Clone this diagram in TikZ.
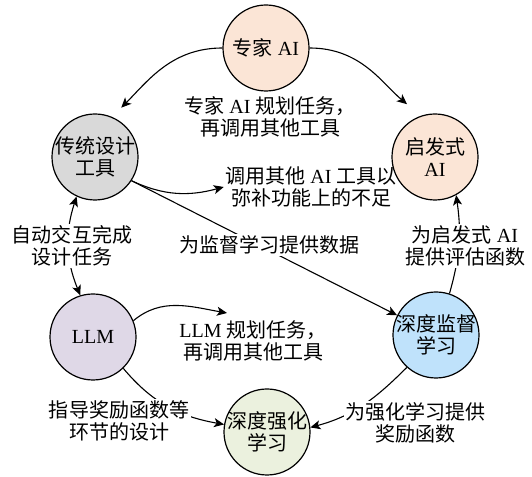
\documentclass[tikz,border=0pt]{standalone}
\usepackage{fontspec}
\setmainfont{Liberation Serif}
\newfontfamily\cjk{Noto Sans CJK SC}
\usetikzlibrary{arrows.meta}
\newcommand\zh[1]{{\cjk #1}}
\definecolor{peach}{HTML}{FBE5D6}
\definecolor{greyfill}{HTML}{D9D9D9}
\definecolor{lavender}{HTML}{DFD8E7}
\definecolor{skyfill}{HTML}{BFE2FB}
\definecolor{greenfill}{HTML}{EBF1DE}
\begin{document}
\begin{tikzpicture}[x=1bp,y=1bp,
  every node/.style={font=\fontsize{20bp}{22bp}\selectfont},
  circ/.style={circle,draw,line width=1.2bp,minimum size=86bp,inner sep=-12bp,align=center},
  lbl/.style={align=center,inner sep=1.5bp},
  lblw/.style={lbl,fill=white},
  arr/.style={line width=1.1bp,-{Stealth[length=10bp,width=9bp,inset=2.5bp]}},
  arrtwo/.style={line width=1.1bp,{Stealth[length=10bp,width=9bp,inset=2.5bp]}-{Stealth[length=10bp,width=9bp,inset=2.5bp]}}]
\useasboundingbox (0,0) rectangle (532,477);
% circles
\node[circ,fill=peach] (zj) at (266,429) {\zh{专家} AI};
\node[circ,fill=greyfill] (ct) at (95,320) {\zh{传统设计}\\\zh{工具}};
\node[circ,fill=peach] (qf) at (435,320) {\zh{启发式}\\AI};
\node[circ,fill=lavender] (llm) at (93,140) {LLM};
\node[circ,fill=skyfill] (jd) at (436,142) {\zh{深度监督}\\\zh{学习}};
\node[circ,fill=greenfill] (qh) at (267,45) {\zh{深度强化}\\\zh{学习}};
% plain labels
\node[lbl] (L1) at (270,360) {\zh{专家} AI \zh{规划任务，}\\\zh{再调用其他工具}};
\node[lbl] (L2) at (311,290) {\zh{调用其他} AI \zh{工具以}\\\zh{弥补功能上的不足}};
\node[lbl] (L7) at (253,136) {LLM \zh{规划任务，}\\\zh{再调用其他工具}};
\coordinate (c7) at (227,164);
% connectors
\draw[arr,shorten >=13bp] (zj.west) to[out=180,in=45] (ct.67);
\draw[arr,shorten >=18bp] (zj.east) to[out=0,in=140] (qf.109);
\draw[arr] (ct.-33) to[out=-25,in=195] (L2.west);
\draw[arr] (ct.-33) -- (jd);
\draw[arrtwo] (ct.245) to[bend right=20] (llm.107);
\draw[arr] (jd.72) to[bend right=12] (qf.-61);
\draw[arr] (llm.22) to[out=40,in=170] (c7);
\draw[arr] (llm.-46) to[out=-50,in=170] (qh.170);
\draw[arr] (jd.228) to[out=225,in=15] (qh.6);
% labels over connectors
\node[lblw] (L3) at (72,231) {\zh{自动交互完成}\\\zh{设计任务}};
\node[lblw] (L4) at (465,231) {\zh{为启发式} AI\\\zh{提供评估函数}};
\node[lblw] (L5) at (269,232) {\zh{为监督学习提供数据}};
\node[lblw] (L8) at (119,56) {\zh{指导奖励函数等}\\\zh{环节的设计}};
\node[lblw] (L9) at (415,54) {\zh{为强化学习提供}\\\zh{奖励函数}};
\end{tikzpicture}
\end{document}
